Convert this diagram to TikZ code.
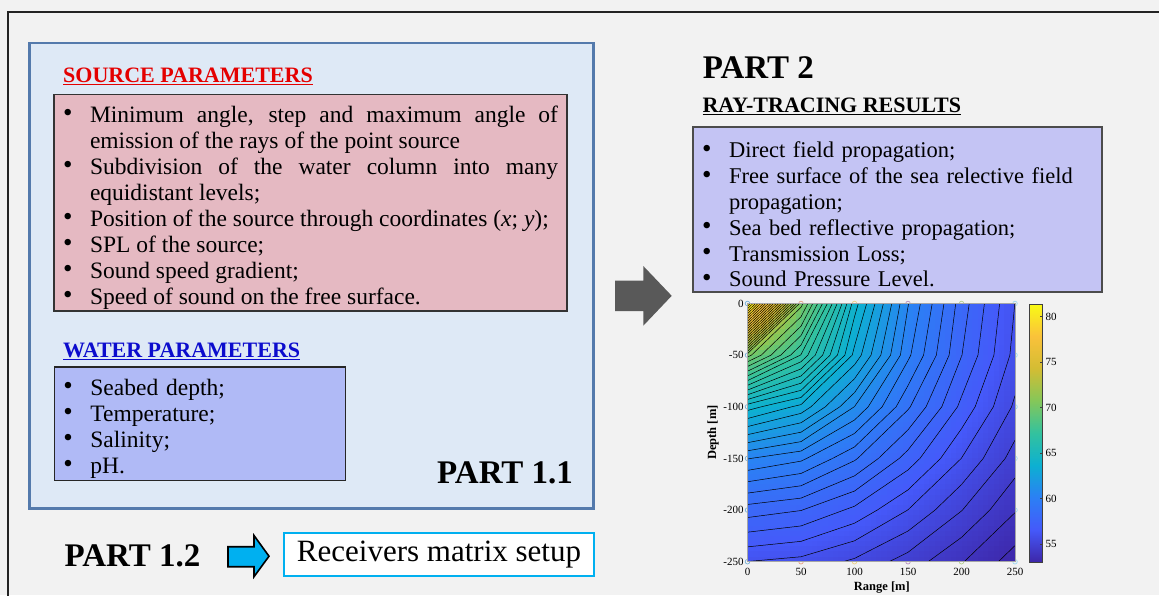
\documentclass[tikz,border=0pt]{standalone}
\usepackage{fontspec}
\setmainfont{Liberation Serif}
\usepackage{tikz}
\definecolor{backgr}{RGB}{242,242,242}
\definecolor{framegray}{RGB}{35,35,35}
\definecolor{partfill}{RGB}{222,233,246}
\definecolor{partline}{RGB}{84,122,172}
\definecolor{sourcefill}{RGB}{229,185,194}
\definecolor{waterfill}{RGB}{176,186,246}
\definecolor{resultfill}{RGB}{196,196,244}
\definecolor{headred}{RGB}{228,0,0}
\definecolor{headblue}{RGB}{12,12,205}
\definecolor{cyanarrow}{RGB}{0,176,240}
\definecolor{grayarrow}{RGB}{89,89,89}
\definecolor{mc0}{rgb}{0,0.447,0.741}
\definecolor{mc1}{rgb}{0.85,0.325,0.098}
\definecolor{mc2}{rgb}{0.929,0.694,0.125}
\definecolor{mc3}{rgb}{0.494,0.184,0.556}
\definecolor{mc4}{rgb}{0.466,0.674,0.188}
\definecolor{mc5}{rgb}{0.301,0.745,0.933}
\def\parR{{0.24,0.27,0.17,0.05,0.20,0.52,0.83,0.98,0.977}}
\def\parG{{0.15,0.35,0.50,0.69,0.76,0.78,0.74,0.76,0.984}}
\def\parB{{0.66,0.98,0.96,0.82,0.62,0.35,0.20,0.23,0.08}}
\definecolor{pc0}{rgb}{0.24,0.15,0.66}
\definecolor{pc1}{rgb}{0.27,0.35,0.98}
\definecolor{pc2}{rgb}{0.17,0.50,0.96}
\definecolor{pc3}{rgb}{0.05,0.69,0.82}
\definecolor{pc4}{rgb}{0.20,0.76,0.62}
\definecolor{pc5}{rgb}{0.52,0.78,0.35}
\definecolor{pc6}{rgb}{0.83,0.74,0.20}
\definecolor{pc7}{rgb}{0.98,0.76,0.23}
\definecolor{pc8}{rgb}{0.977,0.984,0.08}
\pgfdeclareverticalshading{parulabar}{100bp}{color(0bp)=(pc0); color(25bp)=(pc0);
  color(31.25bp)=(pc1); color(37.5bp)=(pc2); color(43.75bp)=(pc3); color(50bp)=(pc4);
  color(56.25bp)=(pc5); color(62.5bp)=(pc6); color(68.75bp)=(pc7); color(75bp)=(pc8);
  color(100bp)=(pc8)}
\newcommand{\parulaset}[1]{%
  \pgfmathsetmacro\cmt{max(0,min(7.999,(#1-53)/28.4*8))}%
  \pgfmathtruncatemacro\cmk{\cmt}%
  \pgfmathsetmacro\cmf{\cmt-\cmk}%
  \pgfmathsetmacro\cmr{\parR[\cmk]*(1-\cmf)+\parR[\cmk+1]*\cmf}%
  \pgfmathsetmacro\cmg{\parG[\cmk]*(1-\cmf)+\parG[\cmk+1]*\cmf}%
  \pgfmathsetmacro\cmb{\parB[\cmk]*(1-\cmf)+\parB[\cmk+1]*\cmf}%
  \definecolor{pcol}{rgb}{\cmr,\cmg,\cmb}}
\newcommand{\bitem}[1]{\par\hangindent=27pt\hangafter=1\noindent
  \hbox to 27pt{\fontsize{27}{26}\selectfont\raisebox{0.5pt}{\textbullet}\hfil}#1}
\tikzstyle{parambox}=[draw, rectangle, anchor=north west, outer sep=0pt, inner ysep=0pt, inner xsep=9pt, font=\fontsize{23.5}{26}\selectfont]
\tikzstyle{heading}=[anchor=base west, inner sep=0pt, font=\fontsize{22}{24}\selectfont\bfseries]
\tikzstyle{parthead}=[anchor=base west, inner sep=0pt, font=\fontsize{33}{34}\selectfont\bfseries]
\tikzstyle{ticklabel}=[inner sep=0pt, font=\fontsize{11}{12}\selectfont]
\tikzstyle{axislabel}=[inner sep=0pt, font=\fontsize{12.5}{13}\selectfont\bfseries]
\tikzstyle{isoline}=[black, line width=0.5pt]
\tikzstyle{rxmark}=[line width=0.7pt, opacity=0.5]

\begin{document}
\begin{tikzpicture}[x=1pt, y=-1pt,
  declare function={spl(\p,\q)=min(81.4,104-20*log10(50*max(veclen(\p,\q),0.01)));}]
\path[use as bounding box, fill=backgr] (0,0) rectangle (1159,595);
\draw[line width=2pt, framegray] (1175,11.7) -- (8.3,11.7) -- (8.3,612);

\node[draw=partline, line width=2.6pt, fill=partfill, rectangle, anchor=north west, outer sep=0pt,
  minimum width=564.3pt, minimum height=465.7pt] (part11box) at (29.2,43) {};
\node[heading, headred] (srchead) at (63,82.7) {\underline{SOURCE PARAMETERS}};
\node[parambox, draw=black!80, line width=1.8pt, fill=sourcefill, minimum width=513pt,
  minimum height=216.7pt, text width=495pt, align=justify] (source) at (54,94.5) {%
  \bitem{Minimum angle, step and maximum angle of\linebreak emission of the rays of the point source}
  \bitem{Subdivision of the water column into many\linebreak equidistant levels;}
  \bitem{Position of the source through coordinates (\textit{x}; \textit{y});}
  \bitem{SPL of the source;}
  \bitem{Sound speed gradient;}
  \bitem{Speed of sound on the free surface.}};
\node[heading, headblue] (waterhead) at (63,357.3) {\underline{WATER PARAMETERS}};
\node[parambox, draw=black!85, line width=1.8pt, fill=waterfill, minimum width=291pt,
  minimum height=113.5pt, text width=273pt, align=left] (water) at (54.4,367) {%
  \bitem{Seabed depth;}
  \bitem{Temperature;}
  \bitem{Salinity;}
  \bitem{pH.}};
\node[parthead] (p11) at (437,483.3) {PART 1.1};

\node[parthead] (p12) at (64.5,566.7) {PART 1.2};
\filldraw[fill=cyanarrow, draw=black, line width=1.6pt, line join=miter]
  (228,546.7) -- (254,546.7) -- (254,535.5) -- (269,556.2) -- (254,576.7)
  -- (254,566.7) -- (228,566.7) -- cycle;
\node[draw=cyanarrow, line width=2.2pt, fill=white, rectangle, anchor=north west, outer sep=0pt,
  minimum width=309.4pt, minimum height=43.3pt, font=\fontsize{31}{32}\selectfont]
  (receivers) at (284.3,533) {Receivers matrix setup};

\fill[grayarrow] (615,280.7) -- (643.3,280.7) -- (643.3,266) -- (671.7,295.8)
  -- (643.3,325.7) -- (643.3,311) -- (615,311) -- cycle;

\node[parthead] (p2) at (702.7,78.3) {PART 2};
\node[heading] (rayhead) at (702.3,112.7) {\underline{RAY-TRACING RESULTS}};
\node[parambox, draw=black!70, line width=2.2pt, fill=resultfill, minimum width=409pt,
  minimum height=165pt, text width=391pt, align=left, font=\fontsize{22.5}{25.8}\selectfont]
  (results) at (693.2,127.2) {%
  \bitem{Direct field propagation;}
  \bitem{Free surface of the sea relective field\break propagation;}
  \bitem{Sea bed reflective propagation;}
  \bitem{Transmission Loss;}
  \bitem{Sound Pressure Level.}};

\begin{scope}[shift={(747.5,303.5)}, x=53.5pt, y=-51.64pt]
  \foreach \i/\c in {0/mc0,1/mc1,2/mc2,3/mc3,4/mc4,5/mc5}{
    \draw[rxmark, \c] (\i,0) circle (2.3pt);
    \draw[rxmark, \c] (\i,5) circle (2.3pt);}
  \foreach \j in {1,...,4}{
    \draw[rxmark, mc0] (0,\j) circle (2.3pt);
    \draw[rxmark, mc5] (5,\j) circle (2.3pt);}
  \begin{scope}
    \clip (0,0) rectangle (5,5);
    \foreach \i in {0,...,4}{
      \foreach \j in {0,...,4}{
        \pgfmathsetmacro\va{spl(\i,\j)}
        \pgfmathsetmacro\vb{spl(\i+1,\j)}
        \pgfmathsetmacro\vc{spl(\i,\j+1)}
        \pgfmathsetmacro\ve{spl(\i+1,\j+1)}
        \foreach \u in {0,...,9}{
          \foreach \v in {0,...,9}{
            \pgfmathsetmacro\su{(\u+0.5)/10}
            \pgfmathsetmacro\sv{(\v+0.5)/10}
            \pgfmathsetmacro\val{\va*(1-\su)*(1-\sv)+\vb*\su*(1-\sv)+\vc*(1-\su)*\sv+\ve*\su*\sv}
            \parulaset{\val}
            \fill[pcol] (\i+\u/10,\j+\v/10) rectangle ++(0.106,0.106);
          }}
      }}
  \end{scope}
  \foreach \i in {0,...,4}{
    \foreach \j in {0,...,4}{
      \pgfmathsetmacro\va{spl(\i,\j)}
      \pgfmathsetmacro\vb{spl(\i+1,\j)}
      \pgfmathsetmacro\vc{spl(\i,\j+1)}
      \pgfmathsetmacro\ve{spl(\i+1,\j+1)}
      \foreach \k in {0,...,51}{
        \pgfmathsetmacro\lev{53.3+0.55*\k}
        \pgfmathtruncatemacro\hit{and(\lev<\va,\lev>\ve)}
        \ifnum\hit=1
          \pgfmathsetmacro\ax{\lev>\vb ? \i+(\va-\lev)/(\va-\vb) : \i+1}
          \pgfmathsetmacro\ay{\lev>\vb ? \j : \j+(\vb-\lev)/(\vb-\ve)}
          \pgfmathsetmacro\bx{\lev>\vc ? \i : \i+(\vc-\lev)/(\vc-\ve)}
          \pgfmathsetmacro\by{\lev>\vc ? \j+(\va-\lev)/(\va-\vc) : \j+1}
          \draw[isoline] (\ax,\ay) -- (\bx,\by);
        \fi
      }}}
  \draw[gray!70, line width=0.5pt] (0,0) rectangle (5,5);
  \foreach \j/\t in {0/0,1/-50,2/-100,3/-150,4/-200,5/-250}
    \node[ticklabel, anchor=east] (yt\j) at (-0.07,\j) {\t};
  \foreach \i/\t in {0/0,1/50,2/100,3/150,4/200,5/250}
    \node[ticklabel, anchor=base] (xt\i) at (\i,5.258) {\t};
  \node[axislabel, anchor=base] (xlab) at (2.51,5.55) {Range [m]};
  \node[axislabel, rotate=90] (ylab) at (-0.645,2.5) {Depth [m]};
\end{scope}

\shade[shading=parulabar] (1029.3,304) rectangle (1042.7,562);
\draw[black!75, line width=0.6pt] (1029.3,304) rectangle (1042.7,562);
\foreach \v in {55,60,...,80}{
  \pgfmathsetmacro\cy{562-(\v-53)*9.0845}
  \draw[black!75, line width=0.5pt] (1040.3,\cy) -- (1042.7,\cy);
  \node[ticklabel, anchor=west] (cb\v) at (1045.5,\cy) {\v};}
\end{tikzpicture}
\end{document}
